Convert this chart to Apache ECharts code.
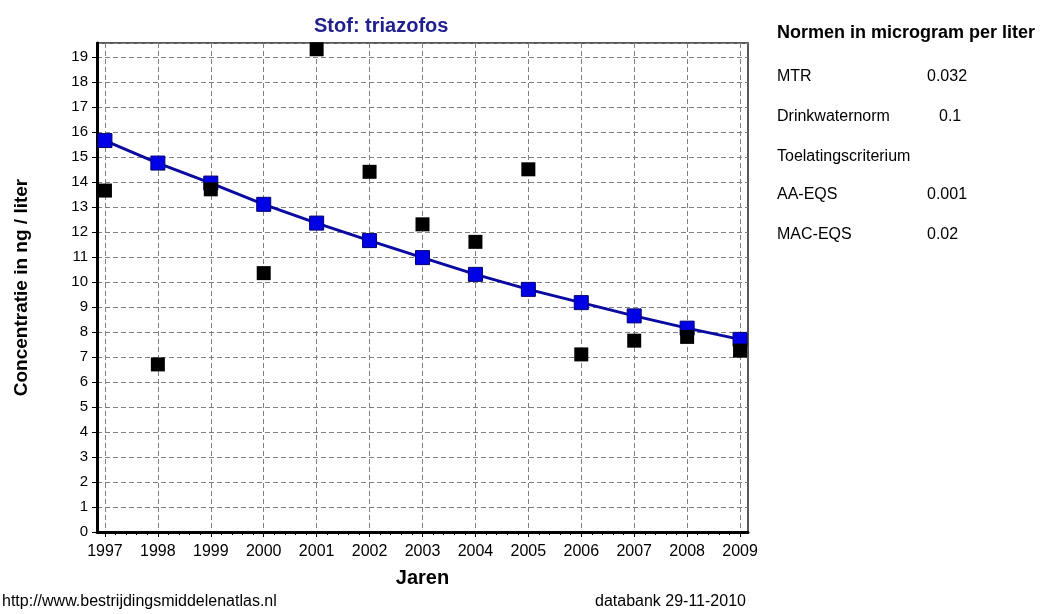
<!DOCTYPE html>
<html>
<head>
<meta charset="utf-8">
<script src="https://cdn.jsdelivr.net/npm/echarts@6/dist/echarts.min.js"></script>
<style>
html,body{margin:0;padding:0;background:#fff;}
#c{width:1043px;height:614px;}
</style>
</head>
<body>
<div id="c"></div>
<script>
// ---- data ----
const years = [1997, 1998, 1999, 2000, 2001, 2002, 2003, 2004, 2005, 2006, 2007, 2008, 2009];
const metingen = [13.65, 6.7, 13.7, 10.35, 19.3, 14.4, 12.3, 11.6, 14.5, 7.1, 7.65, 7.8, 7.25];
const trend = [15.65, 14.75, 13.95, 13.1, 12.35, 11.65, 10.97, 10.3, 9.7, 9.17, 8.64, 8.15, 7.7];
const normNames = ['MTR', 'Drinkwaternorm', 'Toelatingscriterium', 'AA-EQS', 'MAC-EQS'];
const normValues = ['0.032', '0.1', '', '0.001', '0.02'];
const titleText = 'Stof: triazofos';
const normHeader = 'Normen in microgram per liter';
const footLeft = 'http://www.bestrijdingsmiddelenatlas.nl';
const footRight = 'databank 29-11-2010';
const yName = 'Concentratie in ng / liter';
const xName = 'Jaren';

// minor tick positions derived from the years (5 sub-intervals per year)
const minorTicks = [];
for (let i = 0; i < years.length - 1; i++) {
  for (let k = 1; k < 5; k++) minorTicks.push(years[i] + k * 0.2);
}

const FONT = '"Liberation Sans", Arial, sans-serif';
const chart = echarts.init(document.getElementById('c'), null, {renderer: 'canvas'});

const graphics = [];
graphics.push({type: 'text', left: 777, top: 24, style: {text: normHeader, font: 'bold 18px ' + FONT, fill: '#000'}});
const rowY = [75, 115, 155, 193, 233];
normNames.forEach((n, i) => {
  graphics.push({type: 'text', left: 777, top: rowY[i] - 6, style: {text: n, font: '16px ' + FONT, fill: '#000'}});
  if (normValues[i]) {
    graphics.push({type: 'text', left: n === 'Drinkwaternorm' ? 939 : 927, top: rowY[i] - 6, style: {text: normValues[i], font: '16px ' + FONT, fill: '#000'}});
  }
});
graphics.push({type: 'text', left: 2, top: 594, style: {text: footLeft, font: '16px ' + FONT, fill: '#000'}});
graphics.push({type: 'text', left: 595, top: 594, style: {text: footRight, font: '16px ' + FONT, fill: '#000'}});

const option = {
  backgroundColor: '#fff',
  animation: false,
  title: {
    text: titleText,
    left: 309, top: 11,
    textStyle: {fontFamily: FONT, fontSize: 20, fontWeight: 'bold', color: '#20208f'}
  },
  grid: {left: 97, right: 295, top: 43, bottom: 82, show: true, borderColor: '#222', borderWidth: 1.5, containLabel: false},
  xAxis: [{
    type: 'value', min: 1996.85, max: 2009.15, position: 'bottom',
    name: xName, nameLocation: 'middle', nameGap: 36,
    nameTextStyle: {fontFamily: FONT, fontSize: 20, fontWeight: 'bold', color: '#000'},
    axisLine: {show: true, onZero: false, lineStyle: {color: '#000', width: 3}},
    axisTick: {show: true, customValues: years, length: 5, lineStyle: {color: '#000', width: 1}},
    axisLabel: {show: true, customValues: years, margin: 12, fontFamily: FONT, fontSize: 16, color: '#000', formatter: v => String(v)},
    splitLine: {show: true, lineStyle: {color: '#808080', type: [5, 3], width: 1}}
  }, {
    type: 'value', min: 1996.85, max: 2009.15, position: 'bottom',
    axisLine: {show: false},
    axisTick: {show: true, customValues: minorTicks, length: 3, lineStyle: {color: '#000', width: 1}},
    axisLabel: {show: false},
    splitLine: {show: false}
  }],
  yAxis: {
    type: 'value', min: 0, max: 19.55, interval: 1,
    name: yName, nameLocation: 'middle', nameGap: 66, nameRotate: 90,
    nameTextStyle: {fontFamily: FONT, fontSize: 19, fontWeight: 'bold', color: '#000'},
    axisLine: {show: true, onZero: false, lineStyle: {color: '#000', width: 3}},
    axisTick: {show: true, length: 5, lineStyle: {color: '#000'}},
    axisLabel: {margin: 9, fontFamily: FONT, fontSize: 15, color: '#000', showMaxLabel: false,
      formatter: v => (Math.abs(v - Math.round(v)) < 1e-6 ? String(Math.round(v)) : '')},
    splitLine: {show: true, lineStyle: {color: '#808080', type: [5, 3], width: 1}}
  },
  series: [{
    name: 'trend', type: 'line', xAxisIndex: 0,
    data: years.map((y, i) => [y, trend[i]]),
    symbol: 'rect', symbolSize: 14, showAllSymbol: true,
    lineStyle: {color: '#0a0aa0', width: 3},
    itemStyle: {color: '#0000e6', borderColor: '#000070', borderWidth: 1, opacity: 1},
    z: 2
  }, {
    name: 'metingen', type: 'scatter', xAxisIndex: 0,
    data: years.map((y, i) => [y, metingen[i]]),
    symbol: 'rect', symbolSize: 14,
    itemStyle: {color: '#000', opacity: 1},
    z: 3
  }],
  graphic: graphics
};
chart.setOption(option);
</script>
</body>
</html>
